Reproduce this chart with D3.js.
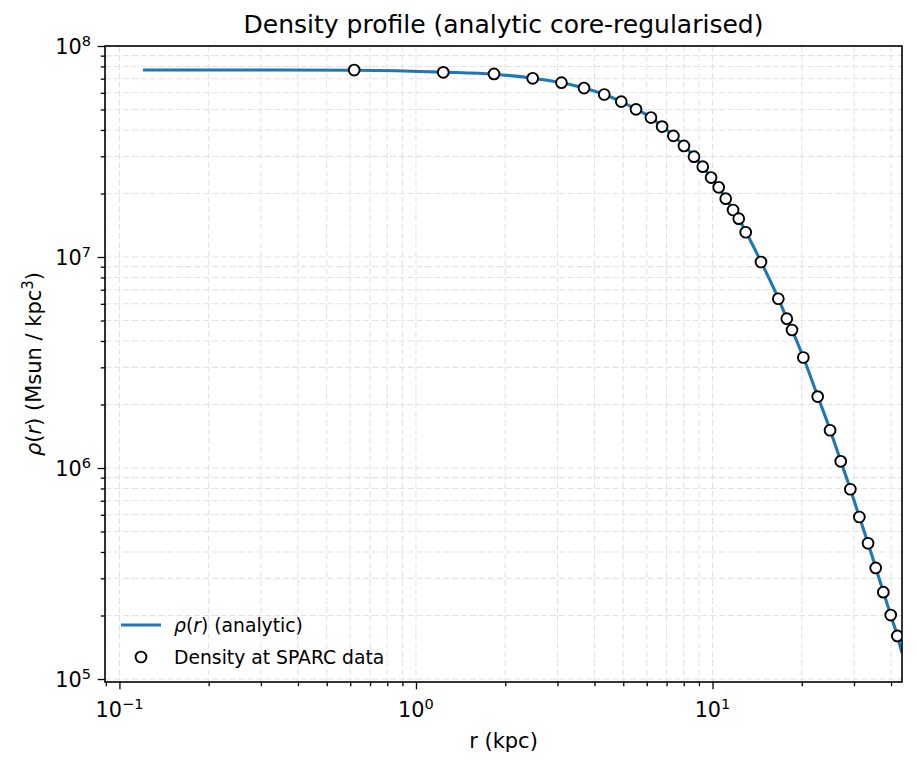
<!DOCTYPE html>
<html>
<head>
<meta charset="utf-8">
<script src="https://cdn.jsdelivr.net/npm/d3@7"></script>
<style>
  body { margin: 0; background: #fff; }
  svg { display: block; font-family: "DejaVu Sans", sans-serif; }
</style>
</head>
<body>
<svg id="chart" width="917" height="767"></svg>
<script>
// ---- data ----
const sparcR = [0.619, 1.236, 1.833, 2.475, 3.095, 3.687, 4.315, 4.924, 5.52, 6.20, 6.76, 7.38, 8.01, 8.66, 9.27, 9.89,
  10.49, 11.08, 11.73, 12.26, 12.94, 14.57, 16.67, 17.80, 18.54, 20.24, 22.63, 24.91, 27.06, 29.16, 31.27, 33.46,
  35.51, 37.67, 39.90, 42.01];
const sparcRho = [7.69e7, 7.50e7, 7.37e7, 7.03e7, 6.70e7, 6.32e7, 5.89e7, 5.45e7, 5.01e7, 4.58e7, 4.15e7, 3.75e7,
  3.36e7, 2.99e7, 2.68e7, 2.38e7, 2.14e7, 1.89e7, 1.67e7, 1.52e7, 1.31e7, 9.47e6, 6.34e6, 5.10e6, 4.51e6, 3.34e6,
  2.18e6, 1.51e6, 1.076e6, 7.93e5, 5.86e5, 4.40e5, 3.36e5, 2.58e5, 2.01e5, 1.60e5];
const curveR = [0.12, 0.2, 0.35, 0.619, 1.236, 1.833, 2.475, 3.095, 3.687, 4.315, 4.924, 5.52, 6.20, 6.76, 7.38, 8.01,
  8.66, 9.27, 9.89, 10.49, 11.08, 11.73, 12.26, 12.94, 14.57, 16.67, 17.80, 18.54, 20.24, 22.63, 24.91, 27.06,
  29.16, 31.27, 33.46, 35.51, 37.67, 39.90, 42.01, 43.55];
const curveRho = [7.70e7, 7.70e7, 7.70e7, 7.68e7, 7.52e7, 7.35e7, 7.04e7, 6.70e7, 6.33e7, 5.89e7, 5.45e7, 5.02e7,
  4.58e7, 4.16e7, 3.76e7, 3.37e7, 3.00e7, 2.69e7, 2.39e7, 2.14e7, 1.90e7, 1.68e7, 1.52e7, 1.32e7, 9.50e6, 6.36e6,
  5.12e6, 4.52e6, 3.35e6, 2.19e6, 1.52e6, 1.08e6, 7.95e5, 5.87e5, 4.40e5, 3.37e5, 2.59e5, 2.01e5, 1.60e5, 1.33e5];
const xMajor = [0.1, 1, 10];
const xMajorExp = ["\u22121", "0", "1"];
const yMajor = [1e5, 1e6, 1e7, 1e8];
const yMajorExp = ["5", "6", "7", "8"];
const titleText = "Density profile (analytic core-regularised)";
const xLabelText = "r (kpc)";
const legendLine = "(analytic)";
const legendPts = "Density at SPARC data";

// ---- layout ----
const L = 105, R = 902, T = 46, B = 682;
const svg = d3.select("#chart");
const x = d3.scaleLog().domain([0.0894, 43.55]).range([L, R]);
const y = d3.scaleLog().domain([0.968e5, 1.0e8]).range([B, T]);

function minors(domain) {
  const out = [];
  const lo = Math.floor(Math.log10(domain[0])), hi = Math.ceil(Math.log10(domain[1]));
  for (let e = lo; e <= hi; e++) for (let m = 2; m <= 9; m++) {
    const v = m * Math.pow(10, e);
    if (v >= domain[0] && v <= domain[1]) out.push(v);
  }
  return out;
}
const xMinor = minors(x.domain());
const yMinor = minors(y.domain());

// grid
const grid = svg.append("g").attr("stroke", "#e3e3e3").attr("stroke-width", 1.1).attr("stroke-dasharray", "6.2,2.7");
xMajor.concat(xMinor).forEach(v => {
  grid.append("line").attr("x1", x(v)).attr("x2", x(v)).attr("y1", T).attr("y2", B);
});
yMajor.concat(yMinor).forEach(v => {
  grid.append("line").attr("y1", y(v)).attr("y2", y(v)).attr("x1", L).attr("x2", R);
});

// clip
svg.append("clipPath").attr("id", "clip").append("rect").attr("x", L).attr("y", T).attr("width", R - L).attr("height", B - T);
const plot = svg.append("g").attr("clip-path", "url(#clip)");

const line = d3.line().x((d, i) => x(curveR[i])).y((d, i) => y(curveRho[i])).curve(d3.curveMonotoneX);
plot.append("path").datum(curveR).attr("d", line).attr("fill", "none").attr("stroke", "#1f77b4").attr("stroke-width", 3.1);

plot.selectAll("circle.pt").data(sparcR).enter().append("circle").attr("class", "pt")
  .attr("cx", d => x(d)).attr("cy", (d, i) => y(sparcRho[i])).attr("r", 5.4)
  .attr("fill", "#fff").attr("stroke", "#000").attr("stroke-width", 1.9);

// axes
const tickFont = 20.8;
svg.append("g").attr("transform", `translate(0,${B})`)
  .call(d3.axisBottom(x).tickValues(xMajor).tickSize(7.3).tickFormat(""));
svg.append("g").attr("transform", `translate(0,${B})`)
  .call(d3.axisBottom(x).tickValues(xMinor).tickSize(4.2).tickFormat(""));
svg.append("g").attr("transform", `translate(${L},0)`)
  .call(d3.axisLeft(y).tickValues(yMajor).tickSize(7.3).tickFormat(""));
svg.append("g").attr("transform", `translate(${L},0)`)
  .call(d3.axisLeft(y).tickValues(yMinor).tickSize(4.2).tickFormat(""));
svg.selectAll(".domain").remove();
svg.selectAll(".tick line").attr("stroke", "#000").attr("stroke-width", 1.3);

// tick labels
xMajor.forEach((v, i) => {
  const t = svg.append("text").attr("x", x(v)).attr("y", 716.5).attr("text-anchor", "middle")
    .attr("font-size", tickFont).attr("fill", "#000");
  t.append("tspan").text("10");
  t.append("tspan").attr("dy", -8).attr("font-size", tickFont * 0.7).text(xMajorExp[i]);
});
yMajor.forEach((v, i) => {
  const t = svg.append("text").attr("x", 91).attr("y", y(v) + 7.5).attr("text-anchor", "end")
    .attr("font-size", tickFont).attr("fill", "#000");
  t.append("tspan").text("10");
  t.append("tspan").attr("dy", -8).attr("font-size", tickFont * 0.7).text(yMajorExp[i]);
});

// frame
svg.append("rect").attr("x", L).attr("y", T).attr("width", R - L).attr("height", B - T)
  .attr("fill", "none").attr("stroke", "#000").attr("stroke-width", 1.6);

// title & labels
svg.append("text").attr("x", (L + R) / 2).attr("y", 33).attr("text-anchor", "middle")
  .attr("font-size", 25).attr("fill", "#000").text(titleText);
svg.append("text").attr("x", (L + R) / 2).attr("y", 748).attr("text-anchor", "middle")
  .attr("font-size", 21).attr("fill", "#000").text(xLabelText);
const yl = svg.append("text").attr("transform", `translate(41,${(T + B) / 2}) rotate(-90)`)
  .attr("text-anchor", "middle").attr("font-size", 21).attr("fill", "#000");
yl.append("tspan").attr("font-style", "italic").text("\u03c1");
yl.append("tspan").text("(");
yl.append("tspan").attr("font-style", "italic").text("r");
yl.append("tspan").text(") (Msun / kpc");
yl.append("tspan").attr("dy", -8).attr("font-size", 15).text("3");
yl.append("tspan").attr("dy", 8).text(")");

// legend
svg.append("line").attr("x1", 121).attr("x2", 161).attr("y1", 625).attr("y2", 625)
  .attr("stroke", "#1f77b4").attr("stroke-width", 3.1);
const lt = svg.append("text").attr("x", 174).attr("y", 631.5).attr("font-size", 18.75).attr("fill", "#000");
lt.append("tspan").attr("font-style", "italic").text("\u03c1");
lt.append("tspan").text("(");
lt.append("tspan").attr("font-style", "italic").text("r");
lt.append("tspan").text(") " + legendLine);
svg.append("circle").attr("cx", 141).attr("cy", 657).attr("r", 5.4).attr("fill", "#fff")
  .attr("stroke", "#000").attr("stroke-width", 1.9);
svg.append("text").attr("x", 174).attr("y", 663.5).attr("font-size", 18.75).attr("fill", "#000").text(legendPts);
</script>
</body>
</html>
